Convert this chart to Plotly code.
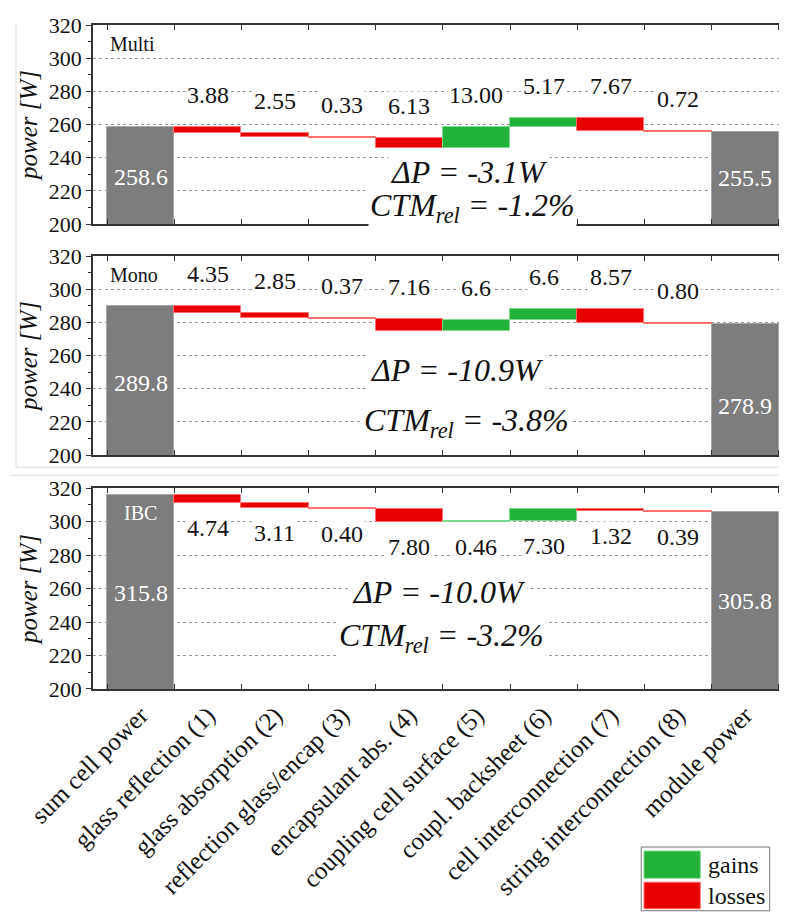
import numpy as np
import plotly.graph_objects as go
from plotly.subplots import make_subplots

# ---------------- data ----------------
categories = ["sum cell power", "glass reflection (1)", "glass absorption (2)",
              "reflection glass/encap (3)", "encapsulant abs. (4)",
              "coupling cell surface (5)", "coupl. backsheet (6)",
              "cell interconnection (7)", "string interconnection (8)", "module power"]

panel_names = ["Multi", "Mono", "IBC"]

multi_start = 258.6
multi_steps = [-3.88, -2.55, -0.33, -6.13, 13.00, 5.17, -7.67, -0.72]
multi_labels = ["3.88", "2.55", "0.33", "6.13", "13.00", "5.17", "7.67", "0.72"]
multi_end = 255.5

mono_start = 289.8
mono_steps = [-4.35, -2.85, -0.37, -7.16, 6.6, 6.6, -8.57, -0.80]
mono_labels = ["4.35", "2.85", "0.37", "7.16", "6.6", "6.6", "8.57", "0.80"]
mono_end = 278.9

ibc_start = 315.8
ibc_steps = [-4.74, -3.11, -0.40, -7.80, 0.46, 7.30, -1.32, -0.39]
ibc_labels = ["4.74", "3.11", "0.40", "7.80", "0.46", "7.30", "1.32", "0.39"]
ibc_end = 305.8

delta_p = ["-3.1W", "-10.9W", "-10.0W"]
ctm_rel = ["-1.2%", "-3.8%", "-3.2%"]

y_ticks = [200, 220, 240, 260, 280, 300, 320]

# ---------------- style ----------------
FONT = "Liberation Serif, DejaVu Serif, Times New Roman, serif"
GRAY = "#7d7d7d"
RED = "#e80000"
GREEN = "#22b23a"

starts = [multi_start, mono_start, ibc_start]
steps_all = [multi_steps, mono_steps, ibc_steps]
labels_all = [multi_labels, mono_labels, ibc_labels]
ends = [multi_end, mono_end, ibc_end]

# layout-only styling per panel (label placement)
label_side = ["above", "above", "below"]
start_text_y = [228.3, 243.5, 257.6]
end_text_y = [227.7, 229.5, 252.8]
dp_pos = [(0.547, 231.6), (0.530, 251.2), (0.504, 257.9)]
ctm_pos = [(0.553, 210.0), (0.543, 219.5), (0.507, 230.5)]

fig = make_subplots(rows=3, cols=1, shared_xaxes=False, vertical_spacing=0.05)

annotations = []
for i in range(3):
    r = i + 1
    xs = "x" if r == 1 else f"x{r}"
    ys = "y" if r == 1 else f"y{r}"
    measures = ["absolute"] + ["relative"] * len(steps_all[i]) + ["total"]
    yvals = [starts[i]] + list(steps_all[i]) + [0]
    fig.add_trace(go.Waterfall(
        x=categories, y=yvals, measure=measures,
        connector=dict(visible=False),
        decreasing=dict(marker=dict(color=RED, line=dict(color="#ff7070", width=1))),
        increasing=dict(marker=dict(color=GREEN, line=dict(color="#80d890", width=1))),
        totals=dict(marker=dict(color=GRAY, line=dict(color="#a8a8a8", width=1))),
        showlegend=False, hoverinfo="x+y",
    ), row=r, col=1)

    cum = starts[i] + np.cumsum(steps_all[i])
    prev = np.concatenate([[starts[i]], cum[:-1]])
    tops = np.maximum(prev, cum)
    bots = np.minimum(prev, cum)
    for k, lab in enumerate(labels_all[i]):
        if label_side[i] == "above":
            yy, sh = tops[k], 32
        else:
            yy, sh = bots[k], -25
        annotations.append(dict(x=categories[k + 1], y=yy, xref=xs, yref=ys, yshift=sh,
                                text=lab, showarrow=False, bgcolor="white",
                                font=dict(family=FONT, size=24, color="#111"),
                                xanchor="center", yanchor="middle"))
    # totals text
    annotations.append(dict(x=categories[0], y=start_text_y[i], xref=xs, yref=ys,
                            text=f"{starts[i]:.1f}", showarrow=False,
                            font=dict(family=FONT, size=24, color="white")))
    annotations.append(dict(x=categories[-1], y=end_text_y[i], xref=xs, yref=ys,
                            text=f"{ends[i]:.1f}", showarrow=False,
                            font=dict(family=FONT, size=24, color="white")))
    # panel name
    if i < 2:
        annotations.append(dict(x=0.022, y=308.8, xref=f"{xs} domain", yref=ys,
                                text=panel_names[i], showarrow=False, xanchor="left",
                                bgcolor="white",
                                font=dict(family=FONT, size=20, color="#111")))
    else:
        annotations.append(dict(x=categories[0], y=305, xref=xs, yref=ys,
                                text=panel_names[i], showarrow=False,
                                font=dict(family=FONT, size=20, color="white")))
    # delta P and CTM
    annotations.append(dict(x=dp_pos[i][0], y=dp_pos[i][1], xref=f"{xs} domain", yref=ys,
                            text=f"<i>ΔP = {delta_p[i]}</i>", showarrow=False,
                            bgcolor="white",
                            font=dict(family=FONT, size=32, color="#111")))
    annotations.append(dict(x=ctm_pos[i][0], y=ctm_pos[i][1], xref=f"{xs} domain", yref=ys,
                            text=f"<i>CTM<sub>rel</sub> = {ctm_rel[i]}</i>", showarrow=False,
                            bgcolor="white",
                            font=dict(family=FONT, size=32, color="#111")))

    fig.update_xaxes(row=r, col=1, type="category", range=[-0.71, 9.52],
                     tickson="boundaries", ticks="inside", ticklen=5, tickcolor="#333",
                     showline=True, linecolor="#333", linewidth=1.5, mirror="ticks",
                     showgrid=False, showticklabels=(r == 3), tickangle=-45,
                     automargin=False,
                     tickfont=dict(family=FONT, size=25, color="#111"))
    fig.update_yaxes(row=r, col=1, range=[200, 320], tickvals=y_ticks,
                     ticks="outside", ticklen=5, tickcolor="#333",
                     minor=dict(dtick=10, ticks="outside", ticklen=3, tickcolor="#333", showgrid=False),
                     showline=True, linecolor="#333", linewidth=1.5, mirror="ticks",
                     showgrid=True, gridcolor="#9a9a9a", griddash="dot", gridwidth=1,
                     zeroline=False, automargin=False,
                     tickfont=dict(family=FONT, size=22, color="#111"),
                     title=dict(text="<i>power [W]</i>", standoff=4,
                                font=dict(family=FONT, size=25, color="#111")))

# panel domains (match reference)
fig.update_layout(
    yaxis=dict(domain=[0.7003, 1.0]),
    yaxis2=dict(domain=[0.3524, 0.6521]),
    yaxis3=dict(domain=[0.0, 0.3027]),
)

# legend (drawn)
shapes = [
    dict(type="rect", xref="paper", yref="paper", x0=0.798, x1=0.985, y0=-0.334, y1=-0.238,
         line=dict(color="#777", width=1), fillcolor="white", layer="below"),
    dict(type="rect", xref="paper", yref="paper", x0=0.802, x1=0.884, y0=-0.285, y1=-0.244,
         line=dict(color="#80d890", width=1), fillcolor=GREEN),
    dict(type="rect", xref="paper", yref="paper", x0=0.802, x1=0.884, y0=-0.331, y1=-0.291,
         line=dict(color="#ff7070", width=1), fillcolor=RED),
    # faint panel frames
    dict(type="line", xref="paper", yref="paper", x0=-0.112, x1=-0.112, y0=0.334, y1=1.0,
         line=dict(color="#dddddd", width=1)),
    dict(type="line", xref="paper", yref="paper", x0=-0.112, x1=1.0102, y0=0.334, y1=0.334,
         line=dict(color="#dddddd", width=1)),
    dict(type="line", xref="paper", yref="paper", x0=-0.12, x1=1.0102, y0=0.322, y1=0.322,
         line=dict(color="#dddddd", width=1)),
]
annotations.append(dict(x=0.892, y=-0.2645, xref="paper", yref="paper", text="gains",
                        showarrow=False, xanchor="left", yanchor="middle",
                        font=dict(family=FONT, size=24, color="#111")))
annotations.append(dict(x=0.892, y=-0.311, xref="paper", yref="paper", text="losses",
                        showarrow=False, xanchor="left", yanchor="middle",
                        font=dict(family=FONT, size=24, color="#111")))

# the page body adds an 8px offset, so the figure is 8px smaller on each side
fig.update_layout(
    width=779, height=906,
    margin=dict(l=85, r=7, t=17, b=225, autoexpand=False),
    paper_bgcolor="white", plot_bgcolor="white",
    waterfallgap=0,
    annotations=annotations, shapes=shapes,
    showlegend=False,
    font=dict(family=FONT, color="#111"),
)

fig.write_html("out.html")
